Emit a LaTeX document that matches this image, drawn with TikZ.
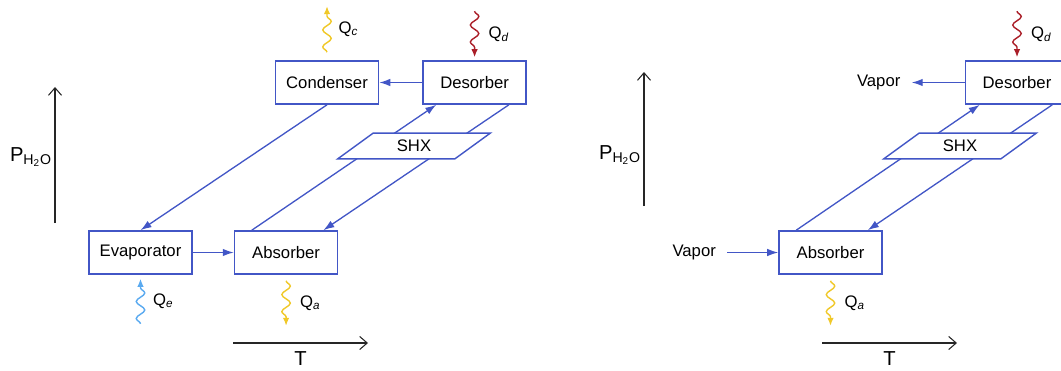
\documentclass[tikz,border=0pt]{standalone}
\usepackage{fontspec}
\setmainfont{Liberation Sans}
\usetikzlibrary{arrows.meta,positioning,shapes.geometric,decorations.pathmorphing}
\definecolor{flowblue}{RGB}{66,86,198}
\definecolor{heatyellow}{RGB}{240,200,40}
\definecolor{heatred}{RGB}{170,30,40}
\definecolor{heatblue}{RGB}{90,170,240}
\newcommand{\qsub}[1]{Q\textsubscript{\textit{#1}}}
\newcommand{\pwater}{P\textsubscript{H\textsubscript{2}O}}

\begin{document}
\begin{tikzpicture}[>=Stealth, every node/.style={font=\fontsize{9.5}{11}\selectfont},
  unit/.style={draw=flowblue,line width=0.9pt,minimum width=2.06cm,minimum height=0.86cm,inner sep=0pt},
  hx/.style={draw=flowblue,line width=0.8pt,fill=white,trapezium,trapezium left angle=36,trapezium right angle=144,
    inner xsep=13.5pt,inner ysep=3.95pt},
  flow/.style={flowblue,line width=0.75pt,-{Latex[length=2.2mm,width=1.5mm]}},
  heat/.style={line width=0.8pt,decorate,decoration={snake,amplitude=0.085cm,segment length=0.34cm,post length=0.14cm},
    -{Latex[length=1.6mm,width=1.3mm]}},
  axis/.style={line width=0.6pt,black!85,-{Straight Barb[length=1.5mm,width=2.6mm]}},
  big/.style={font=\fontsize{11.5}{13}\selectfont}]
\useasboundingbox (0,0) rectangle (21.22,-7.42);

% absorption cycle
\node[unit] (cond) at (6.54,-1.65) {Condenser};
\node[unit,right=0.86cm of cond] (des) {Desorber};
\node[unit] (evap) at (2.81,-5.05) {Evaporator};
\node[unit,right=0.82cm of evap] (abs) {Absorber};
\draw[flow] (des.west) -- (cond.east);
\draw[flow] (evap.east) -- (abs.west);
\draw[flow] (cond.south) -- (evap.north);
\draw[flow] ([xshift=0.36cm]abs.north west) -- ([xshift=0.28cm]des.south west);
\draw[flow] ([xshift=-0.36cm]des.south east) -- ([xshift=-0.3cm]abs.north east);
\node[hx] (shx) at (8.28,-2.92) {SHX};

\coordinate (qc) at ([yshift=1.08cm]cond.north);
\coordinate (qd) at ([yshift=0.98cm]des.north);
\coordinate (qe) at ([yshift=-0.98cm]evap.south);
\coordinate (qa) at ([yshift=-1.02cm]abs.south);
\draw[heat,heatyellow] ([yshift=0.16cm]cond.north) -- (qc) node[midway,right=0.1cm,text=black] {\qsub{c}};
\draw[heat,heatred] (qd) -- ([yshift=0.06cm]des.north) node[midway,right=0.15cm,text=black] {\qsub{d}};
\draw[heat,heatblue] (qe) -- ([yshift=-0.08cm]evap.south) node[midway,right=0.12cm,text=black] {\qsub{e}};
\draw[heat,heatyellow] ([yshift=-0.12cm]abs.south) -- (qa) node[midway,right=0.15cm,text=black] {\qsub{a}};

\coordinate (p0) at (1.1,-4.46);
\coordinate (p1) at (1.1,-1.74);
\draw[axis] (p0) -- (p1);
\node[big] (plab) at (0.62,-3.14) {\pwater};
\coordinate (t0) at (4.66,-6.86);
\coordinate (t1) at (7.36,-6.86);
\draw[axis] (t0) -- (t1) node[midway,below=0.04cm,big,text=black] (tlab) {T};

% absorber / desorber pair only
\node[unit] (des2) at (20.34,-1.65) {Desorber};
\node[unit] (abs2) at (16.61,-5.05) {Absorber};
\node[left=1.06cm of des2,inner xsep=0.22cm] (vap1) {Vapor};
\node[left=1.02cm of abs2,inner xsep=0.22cm] (vap2) {Vapor};
\draw[flow] (des2.west) -- (vap1.east);
\draw[flow] (vap2.east) -- (abs2.west);
\draw[flow] ([xshift=0.36cm]abs2.north west) -- ([xshift=0.3cm]des2.south west);
\draw[flow] ([xshift=-0.34cm]des2.south east) -- ([xshift=-0.3cm]abs2.north east);
\node[hx] (shx2) at (19.2,-2.92) {SHX};

\coordinate (qd2) at ([yshift=0.98cm]des2.north);
\coordinate (qa2) at ([yshift=-1.02cm]abs2.south);
\draw[heat,heatred] (qd2) -- ([yshift=0.06cm]des2.north) node[midway,right=0.15cm,text=black] {\qsub{d}};
\draw[heat,heatyellow] ([yshift=-0.12cm]abs2.south) -- (qa2) node[midway,right=0.15cm,text=black] {\qsub{a}};

\coordinate (p2) at (12.88,-4.12);
\coordinate (p3) at (12.88,-1.44);
\draw[axis] (p2) -- (p3);
\node[big] (plab2) at (12.4,-3.1) {\pwater};
\coordinate (t2) at (16.44,-6.86);
\coordinate (t3) at (19.14,-6.86);
\draw[axis] (t2) -- (t3) node[midway,below=0.04cm,big,text=black] (tlab2) {T};
\end{tikzpicture}
\end{document}
